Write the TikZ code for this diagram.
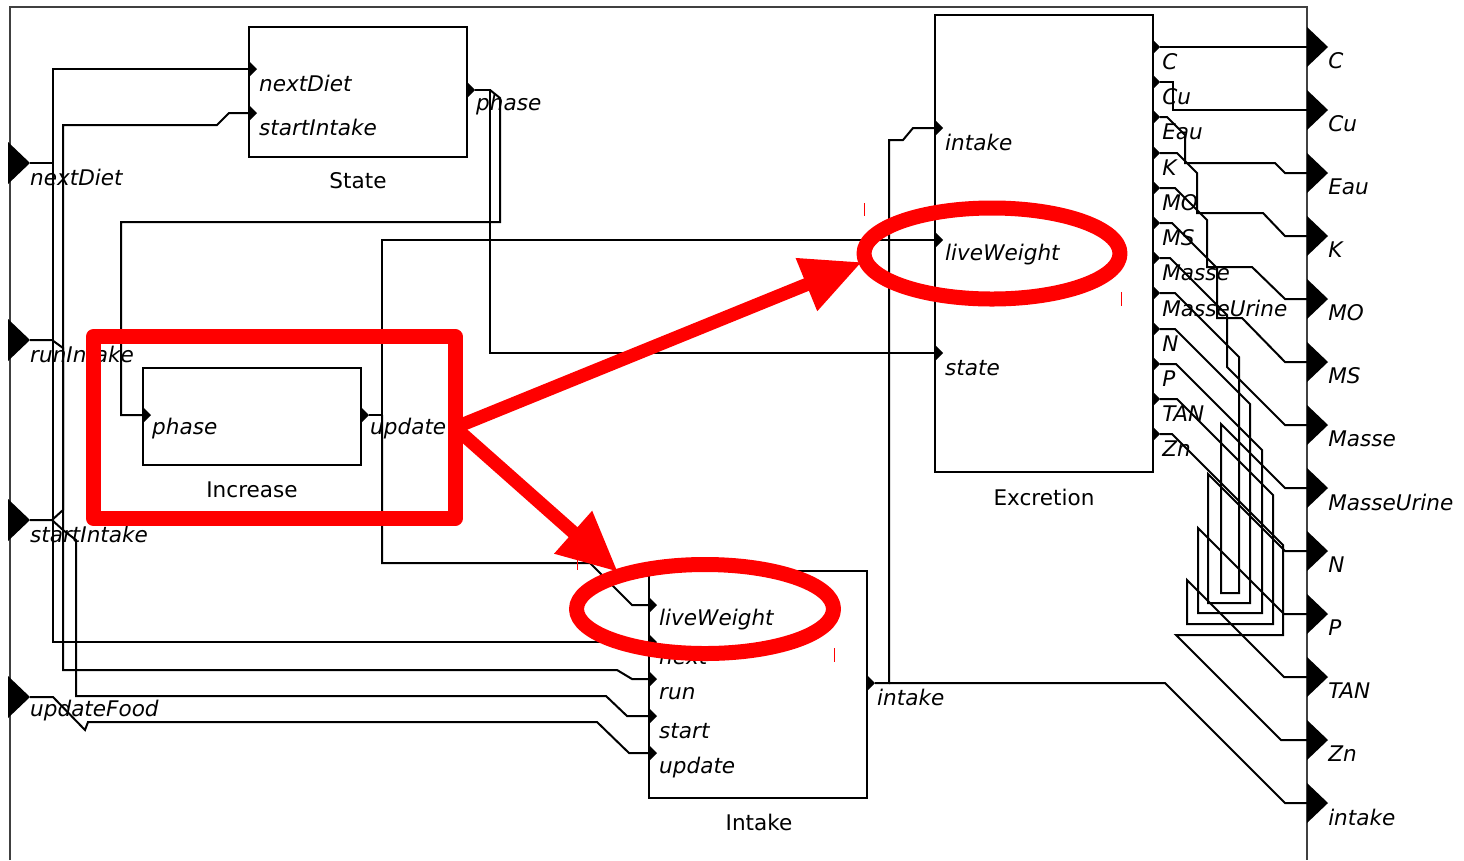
\documentclass[tikz,border=0pt]{standalone}
\usepackage{fontspec}
\setmainfont{DejaVu Sans}
\usetikzlibrary{arrows.meta,shapes.geometric}

\newcommand{\portfont}{\fontsize{18.4}{20}\selectfont\itshape}
\newcommand{\blockfont}{\fontsize{18.4}{20}\selectfont}

\begin{document}
\begin{tikzpicture}[x=0.03cm,y=-0.03cm,
    wire/.style={line width=0.06cm},
    frame/.style={black!75,line width=0.06cm},
    block/.style={draw,line width=0.06cm,minimum width=6.54cm,inner sep=0pt,outer sep=0pt},
    plabel/.style={font=\portfont,anchor=west,inner sep=0pt},
    bname/.style={font=\blockfont,inner sep=0pt},
    hilite/.style={draw=red,line width=0.45cm,line join=round,inner sep=0pt,outer sep=0pt},
    pointer/.style={red,line width=0.4cm,-{Triangle[length=1.8cm,width=1.6cm]}},
    redtick/.style={red,line width=0.03cm}]
  \useasboundingbox (0,0) rectangle (1464,860);

  % Frame of the coupled model
  \draw[frame] (10,860) -- (10,7) -- (1307,7) -- (1307,860);

  % Input ports of the frame
  \foreach \n/\y in {nextDiet/163,runIntake/340,startIntake/520,updateFood/697}{
    \fill (8,\y-21) -- (30,\y) -- (8,\y+21) -- cycle;
    \coordinate (in-\n) at (30,\y);
    \node[plabel] (in-\n-lab) at (30,\y+14) {\n};
  }

  % Output ports of the frame
  \foreach \n/\y in {C/47,Cu/110,Eau/173,K/236,MO/299,MS/362,Masse/425,MasseUrine/488,N/551,P/614,TAN/677,Zn/740,intake/803}{
    \fill (1307,\y-20) -- (1328,\y) -- (1307,\y+20) -- cycle;
    \coordinate (out-\n) at (1307,\y);
    \node[plabel] (out-\n-lab) at (1328,\y+14) {\n};
  }

  % Blocks
  \node[block,minimum height=3.9cm] (State) at (358,92) {};
  \node[block,minimum height=2.91cm] (Increase) at (252,416.5) {};
  \node[block,minimum height=13.71cm] (Excretion) at (1043.5,243.5) {};
  \node[block,minimum height=6.81cm] (Intake) at (758,684.5) {};
  \node[bname] (State-name) at (358,181) {State};
  \node[bname] (Increase-name) at (252,490) {Increase};
  \node[bname] (Excretion-name) at (1044,497) {Excretion};
  \node[bname] (Intake-name) at (759,822) {Intake};

  % Ports of the blocks
  \foreach \x/\y in {249/69,249/113,467/90,143/415,361/415,935/128,935/240,935/353,649/605,649/642,649/679,649/716,649/753,867/683}
    \fill (\x,\y-8) -- (\x+8,\y) -- (\x,\y+8) -- cycle;
  \coordinate (State-nextDiet) at (249,69);
  \coordinate (State-startIntake) at (249,113);
  \coordinate (State-phase) at (475,90);
  \coordinate (Inc-phase) at (143,415);
  \coordinate (Inc-update) at (369,415);
  \coordinate (Exc-intake) at (935,128);
  \coordinate (Exc-liveWeight) at (935,240);
  \coordinate (Exc-state) at (935,353);
  \coordinate (Int-liveWeight) at (649,605);
  \coordinate (Int-next) at (649,642);
  \coordinate (Int-run) at (649,679);
  \coordinate (Int-start) at (649,716);
  \coordinate (Int-update) at (649,753);
  \coordinate (Int-intake) at (875,683);
  \foreach \n/\y in {C/47,Cu/82,Eau/117,K/153,MO/188,MS/223,Masse/258,MasseUrine/293,N/329,P/364,TAN/399,Zn/434}{
    \fill (1152,\y-8) -- (1160,\y) -- (1152,\y+8) -- cycle;
    \coordinate (Exc-\n) at (1160,\y);
    \node[plabel] (Exc-\n-lab) at (1162,\y+15) {\n};
  }

  % Port labels
  \node[plabel] (State-nextDiet-lab) at (259,83) {nextDiet};
  \node[plabel] (State-startIntake-lab) at (259,127) {startIntake};
  \node[plabel] (State-phase-lab) at (476,105) {phase};
  \node[plabel] (Inc-phase-lab) at (152,429) {phase};
  \node[plabel] (Inc-update-lab) at (370,429) {update};
  \node[plabel] (Exc-intake-lab) at (945,142) {intake};
  \node[plabel] (Exc-liveWeight-lab) at (945,255) {liveWeight};
  \node[plabel] (Exc-state-lab) at (945,368) {state};
  \node[plabel] (Int-liveWeight-lab) at (659,620) {liveWeight};
  \node[plabel] (Int-next-lab) at (659,657) {next};
  \node[plabel] (Int-run-lab) at (659,694) {run};
  \node[plabel] (Int-start-lab) at (659,731) {start};
  \node[plabel] (Int-update-lab) at (659,768) {update};
  \node[plabel] (Int-intake-lab) at (877,697) {intake};

  % Connections on the left
  \draw[wire] (in-nextDiet) -- (53,163) |- (State-nextDiet);
  \draw[wire] (53,163) |- (Int-next);
  \draw[wire] (in-runIntake) -- (52,340) -- (63,348) -- (63,670) -- (617,670) -- (632,679) -- (Int-run);
  \draw[wire] (in-startIntake) -- (52,520) -- (63,510) -- (63,125) -- (217,125) -- (229,113) -- (State-startIntake);
  \draw[wire] (52,520) -- (63,530) -- (76,540) -- (76,696) -- (606,696) -- (627,716) -- (Int-start);
  \draw[wire] (in-updateFood) -- (53,697) -- (85,730) -- (88,722) -- (597,722) -- (629,753) -- (Int-update);
  \draw[wire] (State-phase) -- (490,90) -- (490,353) -- (Exc-state);
  \draw[wire] (490,90) -- (500,98) -- (500,222) -- (121,222) |- (Inc-phase);
  \draw[wire] (Inc-update) -- (382,415) |- (Exc-liveWeight);
  \draw[wire] (382,415) |- (590,563) -- (632,605) -- (Int-liveWeight);
  \draw[wire] (Int-intake) -- (889,683) -- (889,140) -- (903,140) -- (913,128) -- (Exc-intake);
  \draw[wire] (889,683) -- (1165,683) -- (1285,803) -- (out-intake);

  % Connections on the right
  \draw[wire] (Exc-C) -- (out-C);
  \draw[wire] (Exc-Cu) -- (1173,82) -- (1173,110) -- (out-Cu);
  \draw[wire] (Exc-Eau) -- (1167,117) -- (1185,135) -- (1185,163) -- (1275,163) -- (1285,173) -- (out-Eau);
  \draw[wire] (Exc-K) -- (1177,153) -- (1197,173) -- (1197,213) -- (1263,213) -- (1285,236) -- (out-K);
  \draw[wire] (Exc-MO) -- (1175,188) -- (1207,220) -- (1207,267) -- (1252,267) -- (1285,299) -- (out-MO);
  \draw[wire] (Exc-MS) -- (1172,223) -- (1217,268) -- (1217,318) -- (1242,318) -- (1285,362) -- (out-MS);
  \draw[wire] (Exc-Masse) -- (1170,258) -- (1227,315) -- (1227,367) -- (1285,425) -- (out-Masse);
  \draw[wire] (Exc-MasseUrine) -- (1175,293) -- (1239,357) -- (1239,593) -- (1221,593) -- (1221,424) -- (1285,488) -- (out-MasseUrine);
  \draw[wire] (Exc-N) -- (1175,329) -- (1250,404) -- (1250,603) -- (1208,603) -- (1208,474) -- (1285,551) -- (out-N);
  \draw[wire] (Exc-P) -- (1176,364) -- (1262,450) -- (1262,613) -- (1198,613) -- (1198,528) -- (1284,614) -- (out-P);
  \draw[wire] (Exc-TAN) -- (1177,399) -- (1273,495) -- (1273,624) -- (1187,624) -- (1187,580) -- (1284,677) -- (out-TAN);
  \draw[wire] (Exc-Zn) -- (1172,434) -- (1283,545) -- (1283,635) -- (1176,635) -- (1281,740) -- (out-Zn);

  % Red highlights
  \node[hilite,minimum width=10.845cm,minimum height=5.46cm] (focus) at (274.25,427.5) {};
  \node[hilite,ellipse,minimum width=7.68cm,minimum height=2.73cm] (ring-exc) at (992,253.5) {};
  \node[hilite,ellipse,minimum width=7.71cm,minimum height=2.67cm] (ring-int) at (705,609) {};
  \coordinate (tip-exc) at (862,262);
  \coordinate (tip-int) at (618,572);
  \draw[pointer] (focus.east) -- (tip-exc);
  \draw[pointer] (focus.east) -- (tip-int);
  \draw[redtick] (864,203) -- (864,216);
  \draw[redtick] (1121,292) -- (1121,306);
  \draw[redtick] (577,558) -- (577,570);
  \draw[redtick] (834,648) -- (834,662);
\end{tikzpicture}
\end{document}
